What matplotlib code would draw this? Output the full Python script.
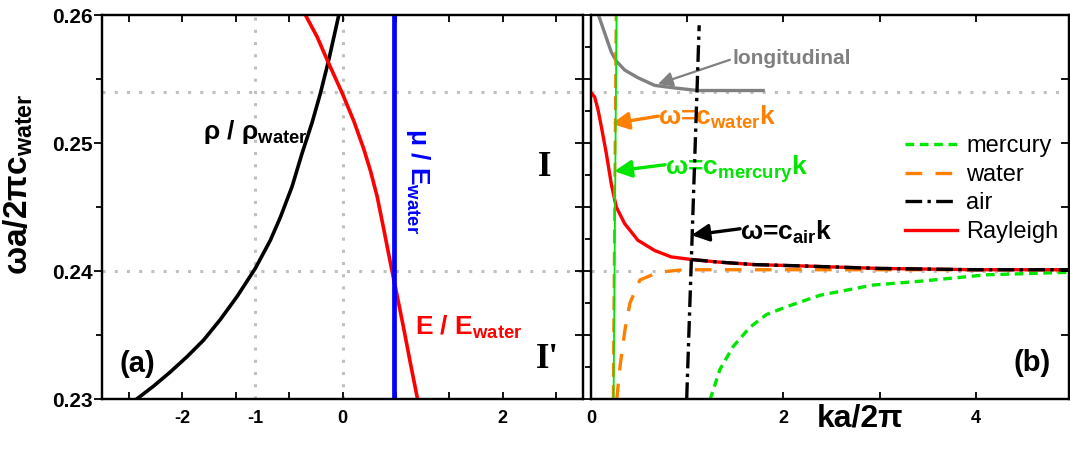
import matplotlib
matplotlib.use("Agg")
from matplotlib import pyplot as plt
from matplotlib.ticker import MultipleLocator, FixedLocator, NullFormatter, FormatStrFormatter

# fonts: bold Arial-like everywhere, math subscripts in the same bold face
plt.rcParams['font.family'] = 'Liberation Sans'
plt.rcParams['font.weight'] = 'bold'
plt.rcParams['mathtext.fontset'] = 'custom'
plt.rcParams['mathtext.rm'] = 'Liberation Sans:bold'
plt.rcParams['mathtext.it'] = 'Liberation Sans:bold'
plt.rcParams['mathtext.bf'] = 'Liberation Sans:bold'
plt.rcParams['mathtext.sf'] = 'Liberation Sans:bold'
plt.rcParams['xtick.labelsize'] = 13
plt.rcParams['ytick.labelsize'] = 15

# ---- panel (a) data ----
rho_x = [-2.566, -2.358, -2.15, -1.94, -1.733, -1.525, -1.316, -1.088, -0.90, -0.775,
         -0.629, -0.504, -0.379, -0.275, -0.171, -0.046]
rho_y = [0.2300, 0.2310, 0.2321, 0.2333, 0.2346, 0.2362, 0.2380, 0.2402, 0.2424, 0.2442,
         0.2466, 0.2492, 0.2516, 0.2539, 0.2565, 0.2600]
E_x = [-0.4625, -0.317, -0.192, -0.004, 0.142, 0.267, 0.35, 0.433, 0.52, 0.608, 0.687,
       0.767, 0.85, 0.933]
E_y = [0.2600, 0.2583, 0.2565, 0.2539, 0.2517, 0.2495, 0.2478, 0.2458, 0.2431, 0.2403,
       0.2379, 0.2354, 0.2327, 0.2301]
mu_x = [0.642, 0.642]
mu_y = [0.23, 0.26]
a_grid_x = [-1.09, 0.0]
grid_y = [0.254, 0.240]
a_xticks = [-2, -1.09, 0, 2]
a_xticklabels = ['-2', '-1', '0', '2']

# ---- panel (b) data ----
long_x = [0.073, 0.142, 0.211, 0.263, 0.350, 0.488, 0.662, 0.870, 1.112, 1.32, 1.79]
long_y = [0.2601, 0.2586, 0.2571, 0.2564, 0.2557, 0.2551, 0.2545, 0.2543, 0.2541, 0.2541, 0.2541]
ray_x = [0.0, 0.003, 0.038, 0.073, 0.107, 0.159, 0.211, 0.263, 0.350, 0.488, 0.662, 0.834,
         1.042, 1.32, 1.7, 2.17, 3.0, 4.0, 5.0]
ray_y = [0.2539, 0.2539, 0.2536, 0.2526, 0.2513, 0.2492, 0.2468, 0.2450, 0.2437, 0.2424,
         0.2416, 0.2411, 0.2409, 0.2407, 0.2405, 0.2404, 0.2402, 0.2401, 0.2401]
water_x = [0.267, 0.301, 0.353, 0.405, 0.509, 0.70, 0.96, 5.0]
water_y = [0.2299, 0.2325, 0.2354, 0.2375, 0.2393, 0.2399, 0.2401, 0.2401]
merc_x = [1.236, 1.34, 1.478, 1.652, 1.825, 2.03, 2.38, 2.93, 3.42, 4.11, 4.97]
merc_y = [0.2299, 0.2323, 0.2341, 0.2356, 0.2366, 0.2372, 0.2381, 0.2389, 0.2392, 0.2397, 0.2399]
air_x = [1.042, 1.32, 1.7, 2.17, 3.0, 4.0, 5.0]
air_y = [0.2409, 0.2407, 0.2405, 0.2404, 0.2402, 0.2401, 0.2401]
# sound lines omega = c k
wline_x = [0.23, 0.26]
wline_y = [0.23, 0.26]
mline_x = [0.2347, 0.2653]
mline_y = [0.23, 0.26]
aline_x = [0.995, 1.125]
aline_y = [0.23, 0.2592]

grid_kw = dict(color='#c0c0c0', lw=2.2, ls=(0, (1, 3)), zorder=1)
orange = '#ff8000'
green = '#00e600'

fig = plt.figure(figsize=(10.7, 4.5), dpi=100)
ax1 = fig.add_axes([102/1070, 51/450, 481/1070, 384/450])
ax2 = fig.add_axes([591/1070, 51/450, 478/1070, 384/450])
ax1r = ax1.twinx()
ax2r = ax2.twinx()

# ---------------- panel (a) ----------------
for gy in grid_y:
    ax1.axhline(gy, **grid_kw)
for gx in a_grid_x:
    ax1.axvline(gx, **grid_kw)
ax1.plot(rho_x, rho_y, color='black', lw=2.6, zorder=3)
ax1.plot(E_x, E_y, color='red', lw=2.6, zorder=3)
ax1.plot(mu_x, mu_y, color='blue', lw=3.4, zorder=4)

ax1.set_xlim(-3, 3)
ax1.set_ylim(0.23, 0.26)
ax1r.set_ylim(0.23, 0.26)
ax1.set_xticks(a_xticks, a_xticklabels, fontsize=13, fontweight='bold')
ax1.xaxis.set_minor_locator(MultipleLocator(2/3))
ax1.set_yticks([0.23, 0.24, 0.25, 0.26], ['0.23', '0.24', '0.25', '0.26'],
               fontsize=15, fontweight='bold')
ax1.yaxis.set_minor_locator(MultipleLocator(0.005))
ax1.tick_params(axis='x', which='both', direction='in', top=True, length=5, width=1.3, pad=8)
ax1.tick_params(axis='y', which='major', direction='out', length=6, width=1.3, pad=1)
ax1.tick_params(axis='y', which='minor', direction='out', length=4, width=1.3)
t = ax1.xaxis.get_major_ticks()[1]
t.tick1line.set_visible(False)
t.tick2line.set_visible(False)
ax1r.yaxis.set_major_locator(MultipleLocator(0.005))
ax1r.tick_params(axis='y', direction='in', length=6, width=1.3, labelright=False)

ax1.set_ylabel('ωa/2πc$_{water}$', fontsize=24, fontweight='bold')
ax1.yaxis.set_label_coords(-0.14, 0.56)

ax1.text(-1.74, 0.2503, 'ρ / ρ$_{water}$', fontsize=19, color='black')
ax1.text(0.94, 0.247, 'μ / E$_{water}$', fontsize=19, color='blue', rotation=-90,
         ha='center', va='center')
ax1.text(0.91, 0.235, 'E / E$_{water}$', fontsize=19, color='red')
ax1.text(2.52, 0.2481, 'I', fontsize=25, family='Liberation Serif', ha='center', va='center')
ax1.text(2.55, 0.2331, "I'", fontsize=25, family='Liberation Serif', ha='center', va='center')
ax1.text(-2.56, 0.2327, '(a)', fontsize=21, ha='center', va='center')

# ---------------- panel (b) ----------------
for gy in grid_y:
    ax2.axhline(gy, **grid_kw)
ax2.plot(long_x, long_y, color='#808080', lw=2.4, zorder=3)
ax2.plot(merc_x, merc_y, color=green, lw=2.4, ls=(0, (2.6, 1.7)), zorder=3, label='mercury')
ax2.plot(water_x, water_y, color=orange, lw=2.4, ls=(0, (5, 4)), zorder=3, label='water')
ax2.plot(ray_x, ray_y, color='red', lw=2.4, zorder=3, label='Rayleigh')
ax2.plot(air_x, air_y, color='black', lw=2.4, ls=(0, (5, 1.6, 1, 1.6)), zorder=4, label='air')
ax2.plot(aline_x, aline_y, color='black', lw=2.4, ls=(0, (5, 1.6, 1, 1.6)), zorder=4)
ax2.plot(wline_x, wline_y, color=orange, lw=2.0, ls=(0, (5, 3)), zorder=4)
ax2.plot(mline_x, mline_y, color=green, lw=1.3, zorder=5)

ax2.set_xlim(0, 4.97)
ax2.set_ylim(0.23, 0.26)
ax2r.set_ylim(0.23, 0.26)
ax2.set_xticks([0, 2, 4], ['0', '2', '4'], fontsize=13, fontweight='bold')
ax2.xaxis.set_minor_locator(MultipleLocator(1))
ax2.tick_params(axis='x', which='both', direction='in', top=True, length=5, width=1.3, pad=8)
ax2.yaxis.set_major_locator(MultipleLocator(0.005))
ax2.yaxis.set_minor_locator(MultipleLocator(0.0025))
ax2.yaxis.set_major_formatter(NullFormatter())
ax2.tick_params(axis='y', which='major', direction='out', length=5.5, width=1.3)
ax2.tick_params(axis='y', which='minor', direction='out', length=4, width=1.3)
ax2r.yaxis.set_major_locator(MultipleLocator(0.005))
ax2r.tick_params(axis='y', direction='in', length=6, width=1.3, labelright=False)

ax2.set_xlabel('ka/2π', fontsize=23, fontweight='bold', va='top')
ax2.xaxis.set_label_coords(0.563, -0.012)

for a in (ax1, ax2, ax1r, ax2r):
    for s in a.spines.values():
        s.set_linewidth(1.6)

# annotations with arrows
arrow = dict(arrowstyle='-|>', lw=2.4, mutation_scale=26, shrinkA=0, shrinkB=0)
ax2.annotate('', xy=(0.696, 0.2546), xytext=(1.444, 0.2565),
             arrowprops=dict(arrow, color='#808080', lw=1.6, mutation_scale=22))
ax2.text(1.475, 0.2566, 'longitudinal', fontsize=15, color='#808080', va='center')

ax2.annotate('', xy=(0.215, 0.2515), xytext=(0.70, 0.2521),
             arrowprops=dict(arrow, color=orange))
ax2.text(0.696, 0.2514, 'ω=c$_{water}$k', fontsize=19, color=orange)

ax2.annotate('', xy=(0.242, 0.2478), xytext=(0.77, 0.2483),
             arrowprops=dict(arrow, color=green))
ax2.text(0.769, 0.2475, 'ω=c$_{mercury}$k', fontsize=19, color=green)

ax2.annotate('', xy=(1.046, 0.2428), xytext=(1.55, 0.2433),
             arrowprops=dict(arrow, color='black'))
ax2.text(1.548, 0.2424, 'ω=c$_{air}$k', fontsize=19, color='black')

ax2.text(4.59, 0.2328, '(b)', fontsize=21, ha='center', va='center')

h, l = ax2.get_legend_handles_labels()
order = [l.index(n) for n in ['mercury', 'water', 'air', 'Rayleigh']]
leg = ax2.legend([h[i] for i in order], [l[i] for i in order], loc='upper left',
                 bbox_to_anchor=(0.657, 0.687), frameon=False, borderpad=0, borderaxespad=0,
                 handlelength=2.2, handletextpad=0.4, labelspacing=0.28,
                 prop={'size': 17, 'weight': 'normal'})

plt.savefig('out.png', dpi=100)
